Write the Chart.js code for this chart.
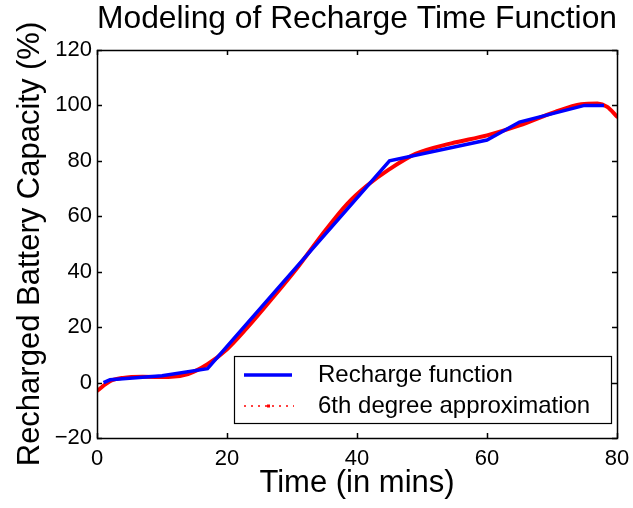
<!DOCTYPE html>
<html>
<head>
<meta charset="utf-8">
<script src="https://cdn.jsdelivr.net/npm/chart.js@4.4.0/dist/chart.umd.min.js"></script>
<style>
  html, body { margin: 0; padding: 0; background: #fff; }
  #wrap { width: 633px; height: 508px; }
</style>
</head>
<body>
<div id="wrap"><canvas id="chartRecarga"></canvas></div>
<script>
const xTicks = [0, 20, 40, 60, 80]
const yTicks = [-20, 0, 20, 40, 60, 80, 100, 120]

// valores
const rechargeTime = [1, 2, 10, 17, 45, 60, 65, 75, 78]
const rechargeLevel = [0, 1, 2.5, 5, 80, 87.5, 94, 100, 100]

const approxTime = [0, 2, 4, 7, 11, 14, 17, 20, 23, 27, 31, 35, 38.5, 41.5, 45, 49, 54.5, 60, 65, 70.5, 74.5, 77, 78.5, 80]
const approxLevel = [-3, 0.5, 1.7, 2.1, 2.0, 3.1, 6.6, 12, 19.5, 30.5, 42, 54.5, 64.5, 71, 77, 82.5, 86.3, 89.2, 92.8, 97.7, 100.4, 100.7, 99.5, 96]

const FONT = '"Liberation Sans", Arial, Helvetica, sans-serif'

const toPoints = (xs, ys) => xs.map((x, i) => ({ x: x, y: ys[i] }))

// caja y marcas hacia adentro, estilo matlab
const frame = {
    id: 'frame',
    afterDatasetsDraw(chart) {
        const { ctx, chartArea } = chart
        const { left, right, top, bottom } = chartArea
        const sx = chart.scales.x
        const sy = chart.scales.y
        const tl = 5

        ctx.save()
        ctx.strokeStyle = '#000'
        ctx.lineWidth = 1.5
        ctx.beginPath()
        xTicks.forEach(v => {
            const px = Math.round(sx.getPixelForValue(v)) + 0.5
            ctx.moveTo(px, bottom); ctx.lineTo(px, bottom - tl)
            ctx.moveTo(px, top); ctx.lineTo(px, top + tl)
        })
        yTicks.forEach(v => {
            const py = Math.round(sy.getPixelForValue(v)) + 0.5
            ctx.moveTo(left, py); ctx.lineTo(left + tl, py)
            ctx.moveTo(right, py); ctx.lineTo(right - tl, py)
        })
        ctx.stroke()
        ctx.strokeRect(Math.round(left) + 0.5, Math.round(top) + 0.5, Math.round(right - left), Math.round(bottom - top))

        // leyenda
        const bx = right - 383, by = bottom - 82, bw = 377, bh = 67
        ctx.fillStyle = '#fff'
        ctx.fillRect(bx, by, bw, bh)
        ctx.lineWidth = 1.2
        ctx.strokeRect(bx + 0.5, by + 0.5, bw, bh)

        const ds = chart.data.datasets
        const row1 = by + 19, row2 = by + 50

        ctx.strokeStyle = ds[0].borderColor
        ctx.lineWidth = 3.5
        ctx.beginPath()
        ctx.moveTo(bx + 10, row1); ctx.lineTo(bx + 58, row1)
        ctx.stroke()

        ctx.strokeStyle = ds[1].borderColor
        ctx.lineWidth = 1.5
        ctx.setLineDash([2, 5])
        ctx.beginPath()
        ctx.moveTo(bx + 10, row2); ctx.lineTo(bx + 60, row2)
        ctx.stroke()
        ctx.setLineDash([])
        ctx.fillStyle = ds[1].borderColor
        ctx.fillRect(bx + 33, row2 - 1.5, 3, 3)

        ctx.fillStyle = '#000'
        ctx.font = '24px ' + FONT
        ctx.textBaseline = 'middle'
        ctx.textAlign = 'left'
        ctx.fillText(ds[0].label, bx + 84, row1)
        ctx.fillText(ds[1].label, bx + 84, row2)
        ctx.restore()
    }
}

const canvas = document.getElementById('chartRecarga')
const context = canvas.getContext('2d')

const chartRecarga = new Chart(context, {
    type: 'line',
    data: {
        datasets: [
            {
                label: 'Recharge function',
                data: toPoints(rechargeTime, rechargeLevel),
                borderColor: '#0000ff',
                borderWidth: 3.5,
                pointRadius: 0,
                tension: 0
            },
            {
                label: '6th degree approximation',
                data: toPoints(approxTime, approxLevel),
                borderColor: '#ff0000',
                borderWidth: 4,
                pointRadius: 0,
                cubicInterpolationMode: 'monotone',
                borderCapStyle: 'round'
            }
        ]
    },
    options: {
        responsive: true,
        maintainAspectRatio: false,
        animation: false,
        layout: { padding: { left: 0, right: 16, top: 0, bottom: 0 } },
        plugins: {
            legend: { display: false },
            tooltip: { enabled: false },
            title: {
                display: true,
                fullSize: false,
                text: 'Modeling of Recharge Time Function',
                color: '#000',
                font: { family: FONT, size: 32, weight: 'normal' },
                padding: { top: 0, bottom: 11.6 }
            }
        },
        scales: {
            x: {
                type: 'linear',
                min: 0,
                max: 80,
                afterBuildTicks: s => { s.ticks = xTicks.map(v => ({ value: v })) },
                afterFit: s => { s.height = 70; s.paddingLeft = 0; s.paddingRight = 0 },
                grid: { display: false, drawTicks: false },
                border: { display: false },
                ticks: { color: '#000', padding: 8, font: { family: FONT, size: 22 } },
                title: {
                    display: true,
                    text: 'Time (in mins)',
                    color: '#000',
                    font: { family: FONT, size: 31 },
                    padding: { top: 0, bottom: 6 }
                }
            },
            y: {
                min: -20,
                max: 120,
                afterBuildTicks: s => { s.ticks = yTicks.map(v => ({ value: v })) },
                afterFit: s => { s.width = 97 },
                grid: { display: false, drawTicks: false },
                border: { display: false },
                ticks: {
                    color: '#000',
                    padding: 5,
                    font: { family: FONT, size: 22 },
                    callback: v => String(v).replace('-', '\u2212')
                },
                title: {
                    display: true,
                    text: 'Recharged Battery Capacity (%)',
                    color: '#000',
                    font: { family: FONT, size: 31 },
                    padding: { top: 12, bottom: 0 }
                }
            }
        }
    },
    plugins: [frame]
})
</script>
</body>
</html>
